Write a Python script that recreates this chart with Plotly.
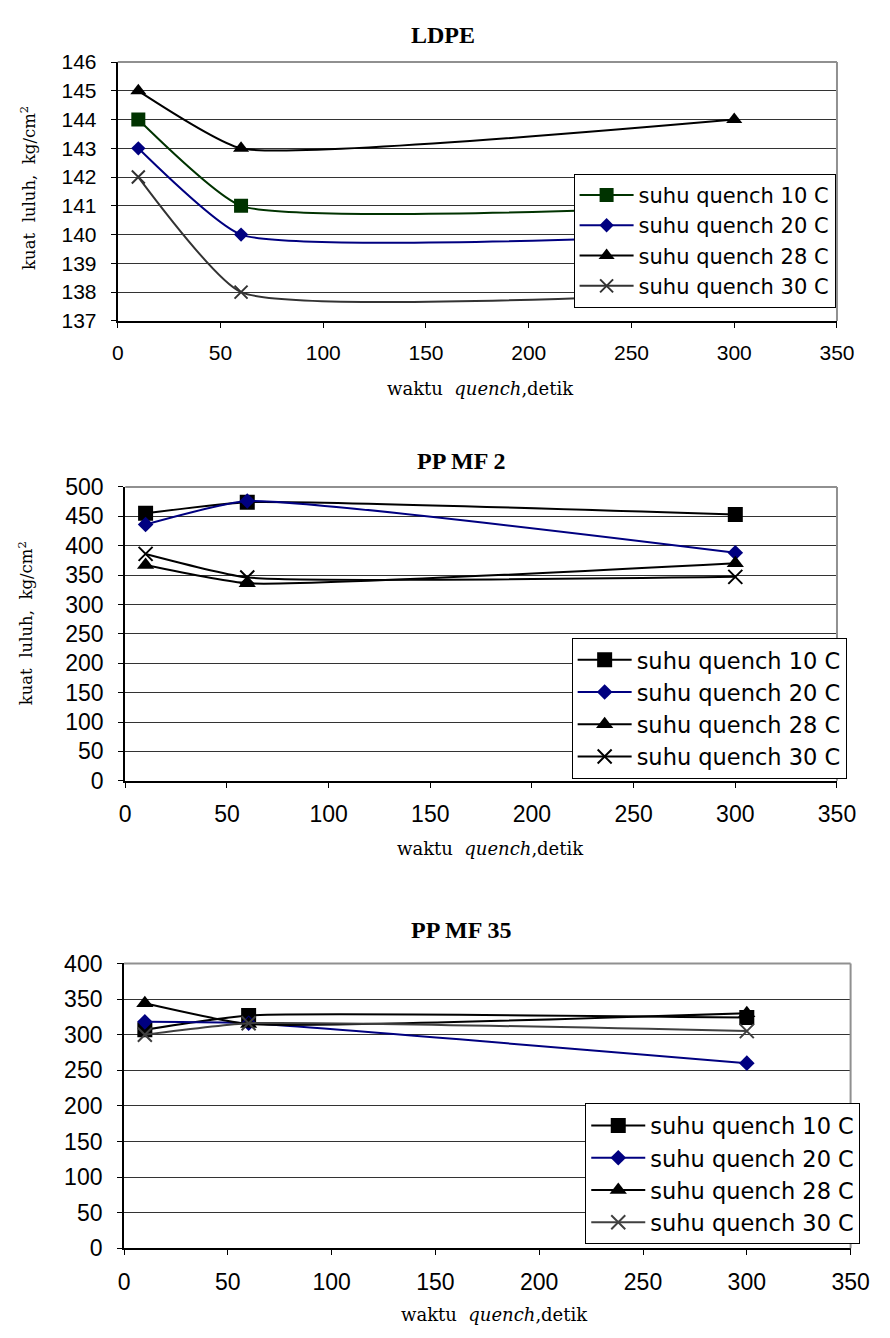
import plotly.graph_objects as go

W, H = 890, 1338

# ---------------- data ----------------
x_time = [10, 60, 300]
series_names = ["suhu quench 10 C", "suhu quench 20 C", "suhu quench 28 C", "suhu quench 30 C"]

ldpe_10 = [144, 141, 141]
ldpe_20 = [143, 140, 140]
ldpe_28 = [145, 143, 144]
ldpe_30 = [142, 138, 138]

ppmf2_10 = [455, 474, 453]
ppmf2_20 = [436, 476, 388]
ppmf2_28 = [367, 336, 370]
ppmf2_30 = [386, 346, 347]

ppmf35_10 = [307, 327, 324]
ppmf35_20 = [318, 316, 260]
ppmf35_28 = [344, 315, 330]
ppmf35_30 = [300, 316, 305]

x_ticks = [0, 50, 100, 150, 200, 250, 300, 350]
ldpe_yticks = [137, 138, 139, 140, 141, 142, 143, 144, 145, 146]
pp2_yticks = [0, 50, 100, 150, 200, 250, 300, 350, 400, 450, 500]
pp35_yticks = [0, 50, 100, 150, 200, 250, 300, 350, 400]

titles = ["LDPE", "PP MF 2", "PP MF 35"]
x_title = "waktu  <i>quench</i>,detik"
y_title = "kuat  luluh,  kg/cm<sup>2</sup>"

# ---------------- styling / layout ----------------
symbols = ["square", "diamond", "triangle-up", "x-thin"]

def fx(p):
    return p / W

def fy(p):
    return 1 - p / H

panels = [
    dict(data=[ldpe_10, ldpe_20, ldpe_28, ldpe_30],
         colors=["#003300", "#000080", "#000000", "#333333"],
         msizes=[14, 11, 14, 13],
         yticks=ldpe_yticks, box=(115, 855, 50, 314), tickfont=21,
         legend=(584, 164), legfont=21, gap=8,
         title=(450, 22), xt=(488, 383), yt=(22, 178)),
    dict(data=[ppmf2_10, ppmf2_20, ppmf2_28, ppmf2_30],
         colors=["#000000", "#000080", "#000000", "#000000"],
         msizes=[15, 12, 15, 14],
         yticks=pp2_yticks, box=(122.7, 855, 483.3, 783), tickfont=23,
         legend=(582, 637), legfont=22.5, gap=8,
         title=(468, 457), xt=(499, 852), yt=(20, 622)),
    dict(data=[ppmf35_10, ppmf35_20, ppmf35_28, ppmf35_30],
         colors=["#000000", "#000080", "#000000", "#404040"],
         msizes=[15, 12, 15, 14],
         yticks=pp35_yticks, box=(121.5, 869, 969.3, 1259.8), tickfont=23,
         legend=(596, 1112), legfont=22.5, gap=8,
         title=(468, 935), xt=(503, 1327), yt=None),
]

fig = go.Figure()
layout = dict(width=W, height=H, margin=dict(l=0, r=0, t=0, b=0),
              paper_bgcolor="white", plot_bgcolor="white", showlegend=True)
annotations = []
shapes = []

for i, p in enumerate(panels):
    n = "" if i == 0 else str(i + 1)
    xa, ya = "x" + n, "y" + n
    leg = "legend" + n
    for j, (vals, col) in enumerate(zip(p["data"], p["colors"])):
        marker = dict(symbol=symbols[j], size=p["msizes"][j], color=col,
                      line=dict(color=col, width=2 if symbols[j] == "x-thin" else 0))
        fig.add_trace(go.Scatter(
            x=x_time, y=vals, name=series_names[j], mode="lines+markers",
            line=dict(color=col, width=2, shape="spline", smoothing=0.45),
            marker=marker, xaxis=xa, yaxis=ya, legend=leg,
            legendgroup=f"g{i}{j}", showlegend=True))
    l, r, t, b = p["box"]
    yt = p["yticks"]
    layout["xaxis" + n] = dict(
        domain=[fx(l), fx(r)], anchor=ya, range=[0, 350], tickvals=x_ticks,
        showgrid=False, showline=True, linecolor="#000000", linewidth=2,
        ticks="outside", ticklen=5, tickcolor="#000000", tickwidth=1,
        tickfont=dict(family="Liberation Sans", size=p["tickfont"], color="#000000"),
        ticklabelstandoff=7, zeroline=False, fixedrange=True)
    layout["yaxis" + n] = dict(
        domain=[fy(b), fy(t)], anchor=xa, range=[yt[0], yt[-1]], tickvals=yt,
        showgrid=True, gridcolor="#333333", gridwidth=1,
        showline=True, linecolor="#000000", linewidth=2,
        ticks="outside", ticklen=5, tickcolor="#000000", tickwidth=1,
        tickfont=dict(family="Liberation Sans", size=p["tickfont"], color="#000000"),
        ticklabelstandoff=10, zeroline=False, fixedrange=True)
    lx, ly = p["legend"]
    layout[leg] = dict(
        x=fx(lx), y=fy(ly), xanchor="left", yanchor="top",
        bgcolor="white", bordercolor="#000000", borderwidth=1,
        font=dict(family="DejaVu Sans", size=p["legfont"], color="#000000"),
        tracegroupgap=p["gap"], itemwidth=54, traceorder="normal")
    # gray top / right plot-area border
    shapes.append(dict(type="line", xref=xa + " domain", yref=ya + " domain",
                       x0=0, x1=1, y0=1, y1=1, line=dict(color="#909090", width=2), layer="above"))
    shapes.append(dict(type="line", xref=xa + " domain", yref=ya + " domain",
                       x0=1, x1=1, y0=0, y1=1, line=dict(color="#909090", width=2), layer="above"))
    tx, ty = p["title"]
    annotations.append(dict(text="<b>" + titles[i] + "</b>", x=fx(tx), y=fy(ty),
                            xref="paper", yref="paper", xanchor="center", yanchor="middle",
                            showarrow=False,
                            font=dict(family="Liberation Serif", size=24, color="#000000")))
    xx, xy = p["xt"]
    annotations.append(dict(text=x_title, x=fx(xx), y=fy(xy), xref="paper", yref="paper",
                            xanchor="center", yanchor="middle", showarrow=False,
                            font=dict(family="DejaVu Serif", size=18, color="#000000")))
    if p["yt"] is not None:
        yx, yy = p["yt"]
        annotations.append(dict(text=y_title, x=fx(yx), y=fy(yy), xref="paper", yref="paper",
                                xanchor="center", yanchor="middle", textangle=-90, showarrow=False,
                                font=dict(family="DejaVu Serif", size=16.5, color="#000000")))

layout["annotations"] = annotations
layout["shapes"] = shapes
fig.update_layout(**layout)
fig.write_html("out.html", config={"displayModeBar": False},
               post_script="document.body.style.margin='0';document.body.style.overflow='hidden';")
